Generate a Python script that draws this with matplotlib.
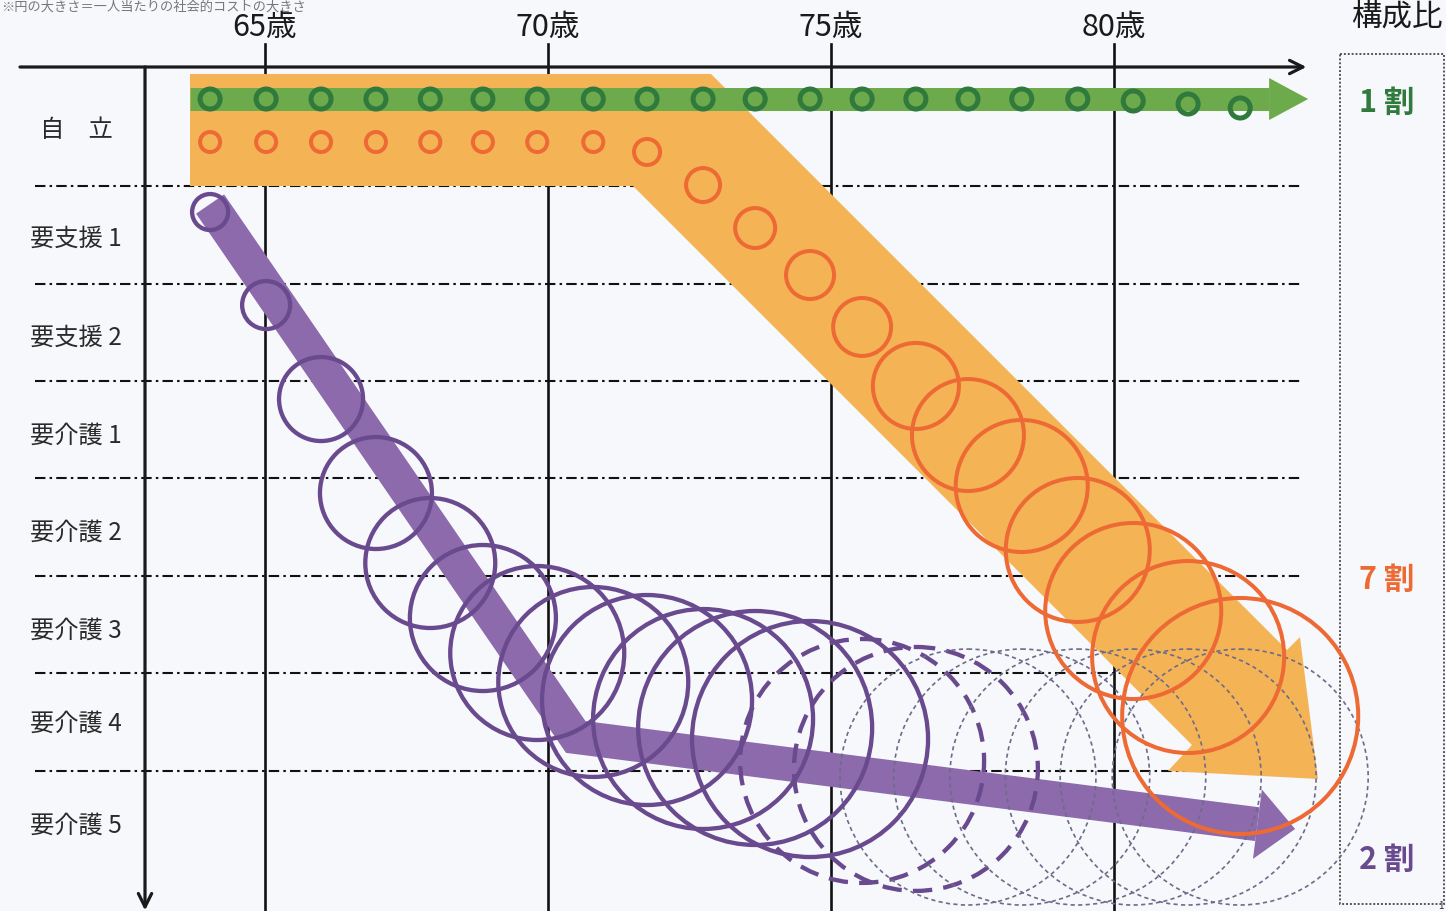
import numpy as np
import matplotlib
matplotlib.use("Agg")
import matplotlib.pyplot as plt
from matplotlib.patches import Ellipse, Polygon, Rectangle
from matplotlib.lines import Line2D

plt.rcParams['font.family'] = ['Noto Sans CJK JP', 'DejaVu Sans']

# ---------------------------------------------------------------- data
AGE_TICKS = [65, 70, 75, 80]
AGE_TICK_LABELS = ['65歳', '70歳', '75歳', '80歳']

CARE_LEVELS = ['自　立', '要支援 1', '要支援 2', '要介護 1', '要介護 2',
               '要介護 3', '要介護 4', '要介護 5']
CARE_LEVEL_POS = [-0.085, 1.03, 2.05, 3.05, 4.05, 5.05, 6.0, 7.05]
ROW_BOUNDARIES = [0.5, 1.5, 2.5, 3.5, 4.5, 5.5, 6.5]

# yearly observation points shared by the three trajectories
AGES = [64.03, 65.02, 65.99, 66.96, 67.92, 68.85, 69.81, 70.80, 71.75, 72.74,
        73.66, 74.63, 75.55, 76.50, 77.42, 78.37, 79.36, 80.34, 81.31, 82.23]

# independent group (1 割)
GREEN_LEVEL = [-0.392, -0.392, -0.392, -0.392, -0.392, -0.392, -0.392, -0.392,
               -0.392, -0.392, -0.392, -0.392, -0.392, -0.392, -0.392, -0.392,
               -0.392, -0.372, -0.341, -0.300]
GREEN_COST = [0.177, 0.177, 0.177, 0.177, 0.177, 0.177, 0.177, 0.177, 0.177, 0.177,
              0.177, 0.177, 0.177, 0.177, 0.177, 0.177, 0.177, 0.177, 0.177, 0.177]

# gradual decline group (7 割)
ORANGE_LEVEL = [0.049, 0.049, 0.049, 0.049, 0.049, 0.049, 0.049, 0.049, 0.151, 0.490,
                0.931, 1.413, 1.946, 2.551, 3.054, 3.577, 4.233, 4.859, 5.331, 5.936]
ORANGE_COST = [0.177, 0.177, 0.177, 0.177, 0.177, 0.177, 0.177, 0.177, 0.230, 0.300,
               0.353, 0.424, 0.512, 0.760, 0.989, 1.166, 1.272, 1.555, 1.696, 2.085]

# early decline group (2 割)
PURPLE_LEVEL = [0.767, 1.721, 2.685, 3.649, 4.367, 4.931, 5.290, 5.587, 5.772, 5.967,
                6.059, 6.172, 6.397, 6.479, 6.562, 6.562, 6.562, 6.562, 6.562, 6.562]
PURPLE_COST = [0.318, 0.424, 0.742, 0.989, 1.148, 1.290, 1.537, 1.678, 1.855, 1.943,
               2.067, 2.085, 2.155, 2.155, 2.261, 2.261, 2.261, 2.261, 2.261, 2.261]

# trend bands (age, level)
GREEN_PATH_AGE = [63.675, 83.43]
GREEN_PATH_LEVEL = [-0.392, -0.392]
PURPLE_PATH_AGE = [64.03, 70.49, 83.20]
PURPLE_PATH_LEVEL = [0.685, 6.151, 7.095]
ORANGE_BAND_AGE = [63.675, 72.880, 83.057, 83.286, 83.604, 80.954, 81.378, 71.502, 63.675]
ORANGE_BAND_LEVEL = [-0.649, -0.649, 5.259, 5.126, 6.582, 6.500, 6.233, 0.5, 0.5]

SHARE_LABELS = ['1 割', '7 割', '2 割']
SHARE_POS = [-0.362, 4.531, 7.403]

CAPTION = '※円の大きさ＝一人当たりの社会的コストの大きさ'

# ---------------------------------------------------------------- figure
DPI = 100
fig = plt.figure(figsize=(14.46, 9.12), dpi=DPI, facecolor='#f6f8fb')
ax = fig.add_axes([0, 0, 1, 1])
ax.set_facecolor('#f6f8fb')
ax.set_xlim(60.318, 85.866)
ax.set_ylim(7.936, -1.418)
ax.axis('off')

C_ORANGE_BAND = '#F4B455'
C_GREEN_BAND = '#6DAA4B'
C_PURPLE_BAND = '#8C6AAB'
C_GREEN = '#2F7A3C'
C_ORANGE = '#EE6A35'
C_PURPLE = '#6A4A8E'
C_PURPLE_THIN = '#6E6A8A'

# pixel aspect of one year vs one care level
p0 = ax.transData.transform((65, 0))
p1 = ax.transData.transform((66, 1))
YEAR_PX = abs(p1[0] - p0[0])
LEVEL_PX = abs(p1[1] - p0[1])


def circle(age, level, r, **kw):
    return Ellipse((age, level), 2 * r, 2 * r * YEAR_PX / LEVEL_PX,
                   fill=False, **kw)


def band_arrow(ages, levels, width_px, head_w_px, head_len_px, color, z):
    pts = ax.transData.transform(np.column_stack([ages, levels]))
    tip, prev = pts[-1], pts[-2]
    d = (tip - prev) / np.hypot(*(tip - prev))
    n = np.array([-d[1], d[0]])
    base = tip - d * head_len_px
    inv = ax.transData.inverted()
    shaft = inv.transform(np.vstack([pts[:-1], base]))
    ax.add_line(Line2D(shaft[:, 0], shaft[:, 1], lw=width_px * 72 / DPI,
                       color=color, solid_capstyle='butt',
                       solid_joinstyle='miter', zorder=z))
    head = inv.transform(np.array([base + n * head_w_px / 2, tip,
                                   base - n * head_w_px / 2]))
    ax.add_patch(Polygon(head, closed=True, facecolor=color, lw=0, zorder=z))


# grid: row boundaries and age lines
for b in ROW_BOUNDARIES:
    ax.plot([60.936, 83.286], [b, b], color='#111111', lw=1.5,
            ls=(0, (5, 2, 1.2, 2)), zorder=1)
for a in AGE_TICKS:
    ax.plot([a, a], [-0.956, 7.936], color='#111111', lw=1.9, zorder=1)

# axes with arrows
ax.annotate('', xy=(83.40, -0.7205), xytext=(60.671, -0.7205),
            arrowprops=dict(arrowstyle='->', lw=2.3, color='#1a1a1a',
                            mutation_scale=24, shrinkA=0, shrinkB=0), zorder=2)
ax.annotate('', xy=(62.880, 7.93), xytext=(62.880, -0.7205),
            arrowprops=dict(arrowstyle='->', lw=2.3, color='#1a1a1a',
                            mutation_scale=24, shrinkA=0, shrinkB=0), zorder=2)

# trend bands
ax.add_patch(Polygon(np.column_stack([ORANGE_BAND_AGE, ORANGE_BAND_LEVEL]),
                     closed=True, facecolor=C_ORANGE_BAND, lw=0, zorder=3))
band_arrow(GREEN_PATH_AGE, GREEN_PATH_LEVEL, 23, 42, 39, C_GREEN_BAND, 4)
band_arrow(PURPLE_PATH_AGE, PURPLE_PATH_LEVEL, 34, 70, 38, C_PURPLE_BAND, 4)

# purple circles: observed (solid), near-term (dashed), longer-term (fine dotted)
for i, (a, lv, r) in enumerate(zip(AGES, PURPLE_LEVEL, PURPLE_COST)):
    if i < 12:
        ax.add_patch(circle(a, lv, r, edgecolor=C_PURPLE, lw=3.1, zorder=6))
    elif i < 14:
        ax.add_patch(circle(a, lv, r, edgecolor=C_PURPLE, lw=3.1,
                            ls=(0, (4.5, 2.6)), zorder=5))
    else:
        ax.add_patch(circle(a, lv, r, edgecolor=C_PURPLE_THIN, lw=1.2,
                            ls=(0, (2.5, 2.0)), zorder=5))

for a, lv, r in zip(AGES, ORANGE_LEVEL, ORANGE_COST):
    ax.add_patch(circle(a, lv, r, edgecolor=C_ORANGE, lw=2.9, zorder=7))

for a, lv, r in zip(AGES, GREEN_LEVEL, GREEN_COST):
    ax.add_patch(circle(a, lv, r, edgecolor=C_GREEN, lw=3.6, zorder=8))

# text
for a, lab in zip(AGE_TICKS, AGE_TICK_LABELS):
    ax.text(a, -1.140, lab, ha='center', va='center', fontsize=22,
            color='#1a1a1a')
for lab, lv in zip(CARE_LEVELS, CARE_LEVEL_POS):
    ax.text(61.66, lv, lab, ha='center', va='center', fontsize=17.5,
            color='#2a2a2a')

ax.add_patch(Rectangle((83.993, -0.854), 85.830 - 83.993, 7.864 + 0.854,
                       fill=False, edgecolor='#555555', lw=1.4, ls=(0, (1, 1)),
                       zorder=2))
ax.text(84.99, -1.240, '構成比', ha='center', va='center', fontsize=22,
        color='#1a1a1a')
for lab, lv, c in zip(SHARE_LABELS, SHARE_POS, [C_GREEN, C_ORANGE, C_PURPLE]):
    ax.text(84.82, lv, lab, ha='center', va='center', fontsize=22,
            fontweight='bold', color=c)
ax.text(85.78, 7.87, '1', ha='center', va='center', fontsize=7, color='#333333')

# note on circle size, tucked into the top-left margin
ax.text(60.33, -1.412, CAPTION, ha='left', va='top', fontsize=9.5,
        color='#777777')

fig.savefig('out.png', dpi=DPI, facecolor=fig.get_facecolor())
